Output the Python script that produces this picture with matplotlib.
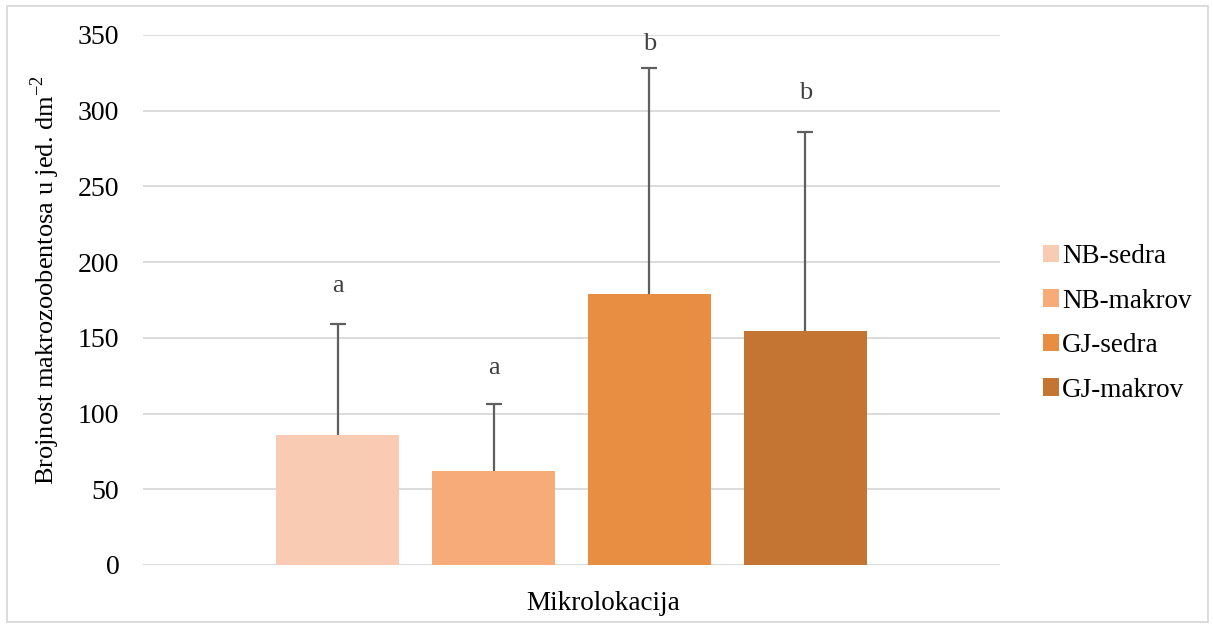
import matplotlib
matplotlib.use("Agg")
import matplotlib.pyplot as plt
from matplotlib.patches import Rectangle

# Podaci
grupe = ["NB-sedra", "NB-makrov", "GJ-sedra", "GJ-makrov"]
srednje = [86, 62, 179, 154.5]
greske = [73, 44, 149.5, 131.5]
slova = ["a", "a", "b", "b"]
slova_y = [184, 130, 344, 312]
boje = ["#F8CBB2", "#F7AB79", "#E88E42", "#C47433"]
yticks = [0, 50, 100, 150, 200, 250, 300, 350]

plt.rcParams["font.family"] = "Liberation Serif"
plt.rcParams["mathtext.fontset"] = "custom"
plt.rcParams["mathtext.rm"] = "Liberation Serif"

fig = plt.figure(figsize=(12.13, 6.27), dpi=100)
ax = fig.add_axes([0.1179, 0.0989, 0.7065, 0.8453])

x = list(range(len(grupe)))
for i in x:
    ax.bar(i, srednje[i], width=0.79, color=boje[i], label=grupe[i], zorder=2)
    eb = ax.errorbar(i, srednje[i], yerr=[[0], [greske[i]]], fmt="none",
                     ecolor="#5f5f5f", elinewidth=1.6, capsize=5.5,
                     capthick=1.6, zorder=3)
    eb[1][0].set_visible(False)  # bez donje kapice
    ax.text(i, slova_y[i], slova[i], ha="center", va="center",
            fontsize=19, color="#404040")

ax.set_xlim(-1.247, 3 + 1.247)
ax.set_ylim(0, 350)
ax.set_yticks(yticks)
ax.set_xticks([])
ax.tick_params(axis="y", length=0, labelsize=20, pad=17)
ax.grid(axis="y", color="#d9d9d9", linewidth=1.3, zorder=0)
for s in ["top", "right", "left", "bottom"]:
    ax.spines[s].set_visible(False)
ax.axhline(0, color="#d9d9d9", linewidth=1.3, zorder=1)

fig.text(603 / 1213, 1 - 603 / 627, "Mikrolokacija", fontsize=19.5,
         ha="center", va="center")
fig.text(45 / 1213, 1 - 280 / 627,
         r"Brojnost makrozoobentosa u jed. dm$^{\mathregular{-2}}$",
         fontsize=19, rotation=90, ha="center", va="center")

leg = ax.legend(loc="center left", bbox_to_anchor=(1.037, 0.456), frameon=False,
                fontsize=19.5, handlelength=0.6, handleheight=0.6,
                handletextpad=0.12, labelspacing=0.72, borderaxespad=0)

# Okvir oko slike
fig.patches.append(Rectangle((0.006, 0.008), 0.99, 0.983, transform=fig.transFigure,
                             fill=False, edgecolor="#d9d9d9", linewidth=1.3))

fig.savefig("out.png", dpi=100)
